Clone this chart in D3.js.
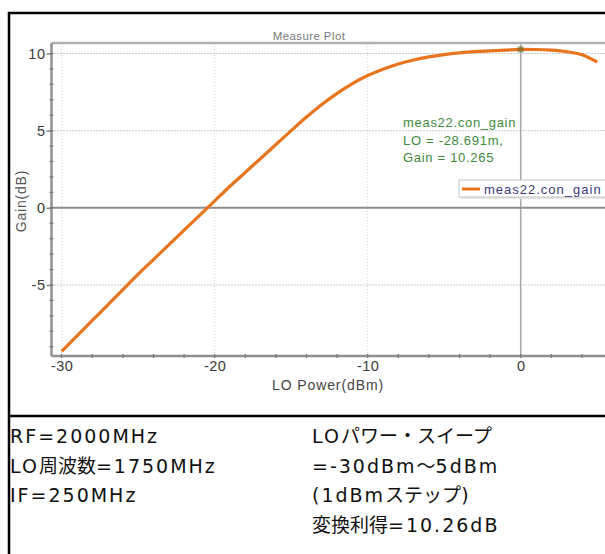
<!DOCTYPE html>
<html>
<head>
<meta charset="utf-8">
<script src="https://cdn.jsdelivr.net/npm/d3@7"></script>
<style>
body { margin: 0; background: #fff; }
svg { display: block; }
</style>
</head>
<body>
<div id="chart"></div>
<script>
// LO power sweep (dBm), 1 dBm steps
var loPower = [-30, -29, -28, -27, -26, -25, -24, -23, -22, -21, -20, -19, -18, -17, -16, -15, -14, -13,
    -12, -11, -10, -9, -8, -7, -6, -5, -4, -3, -2, -1, 0, 1, 2, 3, 4, 5];
var gain = [-9.3, -8.3, -7.3, -6.3, -5.3, -4.3, -3.35, -2.4, -1.45, -0.5, 0.45, 1.4, 2.3, 3.2, 4.1, 5.0, 5.88, 6.7,
    7.42, 8.05, 8.57, 8.98, 9.32, 9.58, 9.78, 9.93, 10.04, 10.12, 10.17, 10.22, 10.265, 10.26, 10.22, 10.12, 9.92, 9.45];
var xTicks = [-30, -20, -10, 0];
var yTicks = [-5, 0, 5, 10];
var seriesName = "meas22.con_gain";
var markerLines = ["meas22.con_gain", "LO = -28.691m,", "Gain = 10.265"];
var markerPoint = {x: 0, y: 10.265};
var notesLeft = ["RF=2000MHz", "LO周波数=1750MHz", "IF=250MHz"];
var notesRight = ["LOパワー・スイープ", "=-30dBm～5dBm", "(1dBmステップ)", "変換利得=10.26dB"];

var svgWidth = 605;
var svgHeight = 554;

var plot = {left: 51.5, top: 43, right: 620, bottom: 356};

var svg = d3.select("#chart")
    .append("svg")
    .attr("width", svgWidth)
    .attr("height", svgHeight);

var x = d3.scaleLinear().domain([-30, 0]).range([61.7, 520.7]);
var y = d3.scaleLinear().domain([-5, 10]).range([285, 53.5]);

var data = loPower.map(function(d, i) { return {x: d, y: gain[i]}; });

// outer frame
svg.append("path")
    .attr("d", "M9,560 V13 H620")
    .attr("fill", "none")
    .attr("stroke", "#000")
    .attr("stroke-width", 2.5);
svg.append("line")
    .attr("x1", 9).attr("x2", 620)
    .attr("y1", 416).attr("y2", 416)
    .attr("stroke", "#000")
    .attr("stroke-width", 2.5);

// grid
var grid = svg.append("g");
grid.selectAll("line.vg")
    .data(xTicks)
    .enter()
    .append("line")
    .attr("x1", d => x(d)).attr("x2", d => x(d))
    .attr("y1", plot.top).attr("y2", plot.bottom)
    .attr("stroke", d => d === 0 ? "#a8a8a8" : "#cfcfcf")
    .attr("stroke-width", d => d === 0 ? 1.5 : 1)
    .attr("stroke-dasharray", d => d === 0 ? null : "1,2");
grid.selectAll("line.hg")
    .data(yTicks)
    .enter()
    .append("line")
    .attr("x1", plot.left).attr("x2", plot.right)
    .attr("y1", d => y(d)).attr("y2", d => y(d))
    .attr("stroke", d => d === 0 ? "#8c8c8c" : "#9a9a9a")
    .attr("stroke-width", d => d === 0 ? 2 : 1)
    .attr("stroke-dasharray", d => d === 0 ? null : "1,2");

// plot top border
svg.append("line")
    .attr("x1", plot.left).attr("x2", plot.right)
    .attr("y1", plot.top).attr("y2", plot.top)
    .attr("stroke", "#b0b0b0")
    .attr("stroke-width", 2.5);

// axes
var bottomAxis = d3.axisBottom(x).tickValues(xTicks).tickSize(0).tickPadding(5)
    .tickFormat(d => String(d));
var leftAxis = d3.axisLeft(y).tickValues(yTicks).tickSize(5).tickPadding(1)
    .tickFormat(d => String(d));

var gx = svg.append("g")
    .attr("transform", `translate(0, ${plot.bottom})`)
    .call(bottomAxis);
gx.select(".domain").attr("d", `M${plot.left},0H${plot.right}`);

var gy = svg.append("g")
    .attr("transform", `translate(${plot.left}, 0)`)
    .call(leftAxis);
gy.select(".domain").attr("d", `M0,${plot.top}V${plot.bottom}`);

[gx, gy].forEach(function(g) {
    g.select(".domain").attr("stroke", "#909090").attr("stroke-width", 2.5);
    g.selectAll(".tick line").attr("stroke", "#888").attr("stroke-width", 1.5);
    g.selectAll(".tick text")
        .attr("fill", "#3a3a3a")
        .style("font-family", "Liberation Sans, Arial, sans-serif")
        .style("font-size", "14.5px")
        .style("letter-spacing", "0.5px");
});

// minor ticks
svg.append("g").selectAll("line")
    .data(d3.range(-30, 6, 2))
    .enter()
    .append("line")
    .attr("x1", d => x(d)).attr("x2", d => x(d))
    .attr("y1", plot.bottom - 2).attr("y2", plot.bottom + 2)
    .attr("stroke", "#777")
    .attr("stroke-width", 1.2);
svg.append("g").selectAll("line")
    .data(d3.range(-9, 11, 1))
    .enter()
    .append("line")
    .attr("x1", plot.left - 2).attr("x2", plot.left + 2)
    .attr("y1", d => y(d)).attr("y2", d => y(d))
    .attr("stroke", "#777")
    .attr("stroke-width", 1.2);

// curve
var line = d3.line()
    .x(d => x(d.x))
    .y(d => y(d.y))
    .curve(d3.curveMonotoneX);

svg.append("path")
    .datum(data)
    .attr("d", line)
    .attr("fill", "none")
    .attr("stroke", "#e8741e")
    .attr("stroke-width", 3.2)
    .attr("stroke-linejoin", "round");

// marker
svg.append("rect")
    .attr("x", x(markerPoint.x) - 3)
    .attr("y", y(markerPoint.y) - 3)
    .attr("width", 6)
    .attr("height", 6)
    .attr("fill", "#6b6b2a")
    .attr("opacity", 0.6);

// title
svg.append("text")
    .attr("x", 309)
    .attr("y", 40)
    .attr("text-anchor", "middle")
    .attr("fill", "#7a7a7a")
    .style("font-family", "Liberation Sans, Arial, sans-serif")
    .style("font-size", "11.5px")
    .style("letter-spacing", "0.4px")
    .text("Measure Plot");

// axis titles
svg.append("text")
    .attr("transform", "rotate(-90)")
    .attr("x", -201)
    .attr("y", 26)
    .attr("text-anchor", "middle")
    .attr("fill", "#555")
    .style("font-family", "Liberation Sans, Arial, sans-serif")
    .style("font-size", "14px")
    .style("letter-spacing", "0.8px")
    .text("Gain(dB)");

svg.append("text")
    .attr("x", 328)
    .attr("y", 390)
    .attr("text-anchor", "middle")
    .attr("fill", "#444")
    .style("font-family", "Liberation Sans, Arial, sans-serif")
    .style("font-size", "14px")
    .style("letter-spacing", "0.9px")
    .text("LO Power(dBm)");

// marker readout
svg.append("g").selectAll("text")
    .data(markerLines)
    .enter()
    .append("text")
    .attr("x", 403)
    .attr("y", (d, i) => 127 + i * 17.5)
    .attr("fill", "#3d8a3d")
    .style("font-family", "Liberation Sans, Arial, sans-serif")
    .style("font-size", "13px")
    .style("letter-spacing", "0.7px")
    .text(d => d);

// legend
var legend = svg.append("g");
legend.append("rect")
    .attr("x", 461).attr("y", 182)
    .attr("width", 160).attr("height", 17)
    .attr("fill", "#e6e6e6");
legend.append("rect")
    .attr("x", 459).attr("y", 180)
    .attr("width", 160).attr("height", 17)
    .attr("fill", "#fff")
    .attr("stroke", "#c4c4c4")
    .attr("stroke-width", 1);
legend.append("line")
    .attr("x1", 462).attr("x2", 480)
    .attr("y1", 189).attr("y2", 189)
    .attr("stroke", "#e8741e")
    .attr("stroke-width", 3);
legend.append("text")
    .attr("x", 484)
    .attr("y", 193.5)
    .attr("fill", "#3a3a80")
    .style("font-family", "Liberation Sans, Arial, sans-serif")
    .style("font-size", "13px")
    .style("letter-spacing", "1px")
    .text(seriesName);

// notes under the chart: wide latin runs, plain CJK runs
function addNotes(lines, x0) {
    var t = svg.append("g").selectAll("text")
        .data(lines)
        .enter()
        .append("text")
        .attr("x", x0)
        .attr("y", (d, i) => 443 + i * 29.7)
        .attr("fill", "#111")
        .style("font-size", "19px");
    t.each(function(d) {
        var el = d3.select(this);
        d.split(/([\u3000-\u30ff\u4e00-\u9fff\uff00-\uffef]+)/).filter(s => s.length).forEach(function(s) {
            var cjk = /[\u3000-\u30ff\u4e00-\u9fff\uff00-\uffef]/.test(s);
            el.append("tspan")
                .style("font-family", cjk ? "Noto Sans CJK JP, sans-serif" : "DejaVu Sans, sans-serif")
                .style("letter-spacing", cjk ? "0px" : "2px")
                .text(s);
        });
    });
}
addNotes(notesLeft, 10);
addNotes(notesRight, 312);
</script>
</body>
</html>
